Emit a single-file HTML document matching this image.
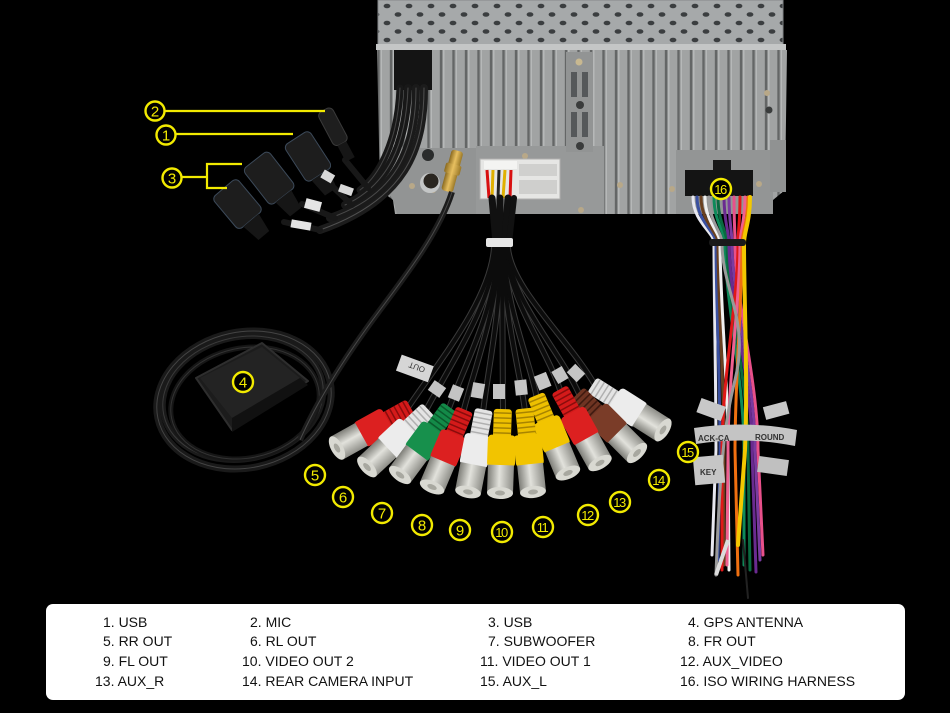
<!DOCTYPE html>
<html><head><meta charset="utf-8"><style>
html,body{margin:0;padding:0;background:#000;}
svg{display:block;}
</style></head><body>
<svg width="950" height="713" viewBox="0 0 950 713" xmlns="http://www.w3.org/2000/svg">
<defs>
<pattern id="holes" patternUnits="userSpaceOnUse" width="22" height="17" x="380" y="0">
<rect width="22" height="17" fill="#a6a9aa"/>
<ellipse cx="7" cy="6" rx="3.4" ry="2.3" fill="#3b3e40"/>
<ellipse cx="18" cy="14.5" rx="3.4" ry="2.3" fill="#3b3e40"/>
</pattern>
<pattern id="fins" patternUnits="userSpaceOnUse" width="12.5" height="300" x="380" y="0">
<rect width="12.5" height="300" fill="#8c8e8e"/>
<rect x="0.5" width="9" height="300" fill="#a1a3a3"/>
<rect x="0.5" width="1.5" height="300" fill="#b6b8b8"/>
<rect x="10" width="2" height="300" fill="#646666"/>
</pattern>
<linearGradient id="metal" x1="0" x2="1" y1="0" y2="0">
<stop offset="0" stop-color="#7e7e78"/><stop offset="0.45" stop-color="#e2e2dc"/><stop offset="1" stop-color="#8e8e88"/>
</linearGradient>
<linearGradient id="gold" x1="0" x2="1"><stop offset="0" stop-color="#8a6a20"/><stop offset="0.5" stop-color="#e8c060"/><stop offset="1" stop-color="#9a7828"/></linearGradient>
</defs>
<rect width="950" height="713" fill="#000"/>

<!-- ===== Head unit ===== -->
<rect x="378" y="0" width="405" height="46" fill="url(#holes)"/>
<rect x="378" y="0" width="405" height="46" fill="none" stroke="#85888a" stroke-width="1"/>
<rect x="376" y="44" width="410" height="6" fill="#c4c6c6"/>
<polygon points="377,50 787,50 785,190 773,200 770,214 395,214 393,200 380,190" fill="url(#fins)"/>
<polygon points="390,148 478,148 478,214 397,214 393,200 386,190" fill="#929494"/>
<rect x="476" y="146" width="128" height="68" fill="#979999"/>
<rect x="676" y="150" width="97" height="64" fill="#939595"/>
<rect x="770" y="140" width="16" height="52" fill="#909292"/>
<rect x="566" y="52" width="27" height="100" fill="#929494"/>
<rect x="571" y="72" width="6" height="25" fill="#55585a"/><rect x="582" y="72" width="6" height="25" fill="#55585a"/>
<rect x="571" y="112" width="6" height="25" fill="#55585a"/><rect x="582" y="112" width="6" height="25" fill="#55585a"/>
<circle cx="580" cy="105" r="4" fill="#3a3c3c"/><circle cx="580" cy="146" r="4" fill="#3a3c3c"/>
<circle cx="579" cy="62" r="3.5" fill="#c8b890"/>
<circle cx="769" cy="110" r="3.5" fill="#3a3c3c"/><circle cx="767" cy="93" r="3" fill="#b8a888"/>
<circle cx="433" cy="190" r="3" fill="#b8a888"/><circle cx="525" cy="156" r="3" fill="#b8a888"/>
<circle cx="620" cy="185" r="3" fill="#b8a888"/><circle cx="672" cy="189" r="3" fill="#b8a888"/>
<circle cx="581" cy="210" r="3" fill="#b8a888"/><circle cx="759" cy="184" r="3" fill="#b8a888"/>
<circle cx="412" cy="186" r="3" fill="#b8a888"/>
<circle cx="428" cy="155" r="6" fill="#2a2c2c"/>
<circle cx="430" cy="183" r="10" fill="#c4c6c6"/><circle cx="431" cy="181" r="7.5" fill="#2a2620"/>
<g transform="translate(452,172) rotate(15)">
<rect x="-6" y="-22" width="12" height="42" rx="3" fill="url(#gold)"/>
<rect x="-8" y="-8" width="16" height="10" rx="2" fill="url(#gold)"/>
</g>
<rect x="480" y="159" width="80" height="40" fill="#e6e6e4"/>
<rect x="480" y="159" width="80" height="40" fill="none" stroke="#b0b0ae"/>
<rect x="519" y="164" width="38" height="12" fill="#d0d0ce"/><rect x="519" y="180" width="38" height="14" fill="#cfcfcd"/>
<rect x="484" y="161" width="33" height="8" fill="#f4f4f2"/>
<line x1="487" y1="170" x2="489" y2="198" stroke="#d81010" stroke-width="3"/>
<line x1="493" y1="170" x2="492" y2="198" stroke="#e0b000" stroke-width="3"/>
<line x1="499" y1="170" x2="498" y2="198" stroke="#222" stroke-width="3"/>
<line x1="505" y1="170" x2="503" y2="198" stroke="#e0b000" stroke-width="3"/>
<line x1="511" y1="170" x2="510" y2="198" stroke="#d81010" stroke-width="3"/>
<rect x="394" y="50" width="38" height="40" fill="#141414"/>
<rect x="713" y="160" width="18" height="12" fill="#181818"/>
<rect x="685" y="170" width="68" height="26" fill="#141414"/>

<!-- ===== GPS antenna coil ===== -->
<g fill="none" stroke-linecap="round">
<ellipse cx="244" cy="400" rx="88" ry="68" transform="rotate(-12 244 400)" stroke="#1a1a1a" stroke-width="7"/>
<ellipse cx="244" cy="400" rx="88" ry="68" transform="rotate(-12 244 400)" stroke="#444" stroke-width="1"/>
<ellipse cx="243" cy="398" rx="81" ry="61" transform="rotate(-12 243 398)" stroke="#1a1a1a" stroke-width="6"/>
<ellipse cx="243" cy="398" rx="81" ry="61" transform="rotate(-12 243 398)" stroke="#3a3a3a" stroke-width="1"/>
<ellipse cx="245" cy="403" rx="75" ry="55" transform="rotate(-12 245 403)" stroke="#161616" stroke-width="5"/>
<ellipse cx="245" cy="403" rx="75" ry="55" transform="rotate(-12 245 403)" stroke="#333" stroke-width="1"/>
</g>
<polygon points="196,378 262,343 308,381 232,430" fill="#1c1c1c" stroke="#2e2e2e" stroke-width="2" stroke-linejoin="round"/>
<polygon points="200,378 262,347 300,378 232,418" fill="#232323"/>
<polygon points="232,418 300,378 308,385 232,432" fill="#111"/>
<path d="M452,192 C440,230 410,270 380,310 C350,350 320,395 300,440" fill="none" stroke="#1c1c1c" stroke-width="6"/>
<path d="M452,192 C440,230 410,270 380,310 C350,350 320,395 300,440" fill="none" stroke="#4a4a4a" stroke-width="1"/>

<!-- ===== Left USB / MIC cables ===== -->
<g fill="none" stroke-linecap="round">
<path d="M424,88 C424,150 405,200 320,230" stroke="#1c1c1c" stroke-width="8"/>
<path d="M424,88 C424,150 405,200 320,230" stroke="#505050" stroke-width="1"/>
<path d="M416,88 C416,150 396,195 330,218" stroke="#1a1a1a" stroke-width="8"/>
<path d="M416,88 C416,150 396,195 330,218" stroke="#4a4a4a" stroke-width="1"/>
<path d="M408,88 C406,145 388,185 345,205" stroke="#181818" stroke-width="8"/>
<path d="M408,88 C406,145 388,185 345,205" stroke="#484848" stroke-width="1"/>
<path d="M400,88 C398,140 380,175 360,190" stroke="#181818" stroke-width="7"/>
<path d="M400,88 C398,140 380,175 360,190" stroke="#444" stroke-width="1"/>
<path d="M345,160 L368,188" stroke="#181818" stroke-width="6"/>
<path d="M334,188 L352,205" stroke="#181818" stroke-width="6"/>
<path d="M302,204 L335,218" stroke="#181818" stroke-width="6"/>
<path d="M284,222 L320,230" stroke="#181818" stroke-width="6"/>
</g>
<!-- MIC plug -->
<g transform="translate(324,110) rotate(-28)">
<rect x="-8" y="0" width="16" height="38" rx="5" fill="#1e1e1e" stroke="#3a3a3a"/>
<rect x="-5" y="38" width="10" height="18" fill="#161616"/>
</g>
<!-- USB plugs -->
<g transform="translate(296,138) rotate(-33)">
<rect x="-15" y="0" width="30" height="44" rx="5" fill="#1d1d1d" stroke="#3c4a5a"/>
<polygon points="-10,44 10,44 7,64 -7,64" fill="#161616"/>
</g>
<g transform="translate(255,160) rotate(-38)">
<rect x="-16" y="0" width="32" height="46" rx="5" fill="#1d1d1d" stroke="#3c4a5a"/>
<polygon points="-10,46 10,46 7,66 -7,66" fill="#161616"/>
</g>
<g transform="translate(224,188) rotate(-40)">
<rect x="-16" y="0" width="32" height="42" rx="5" fill="#1d1d1d" stroke="#3c4a5a"/>
<polygon points="-10,42 10,42 7,62 -7,62" fill="#161616"/>
</g>
<rect x="322" y="172" width="12" height="9" fill="#d8d8d8" transform="rotate(30 328 176)"/>
<rect x="339" y="186" width="14" height="8" fill="#d8d8d8" transform="rotate(20 346 190)"/>
<rect x="305" y="200" width="16" height="10" fill="#e4e4e4" transform="rotate(15 313 205)"/>
<rect x="291" y="221" width="20" height="8" fill="#e4e4e4" transform="rotate(10 301 225)"/>

<!-- ===== RCA bundle ===== -->
<g fill="none" stroke-linecap="round">
<path d="M492,198 L496,243" stroke="#111" stroke-width="7"/>
<path d="M500,198 L500,243" stroke="#111" stroke-width="7"/>
<path d="M508,198 L505,243" stroke="#111" stroke-width="7"/>
<path d="M514,198 L509,243" stroke="#111" stroke-width="6"/>
</g>
<g fill="none" stroke-linecap="round">
<g stroke="#3a3a3a" stroke-width="6">
<path d="M494,248 C490,300 440,360 407,409"/>
<path d="M496,248 C494,300 450,365 425,412"/>
<path d="M498,248 C496,310 462,370 448,411"/>
<path d="M499,248 C498,310 472,375 463,413"/>
<path d="M501,248 C500,320 486,380 483,413"/>
<path d="M502,248 C502,320 503,380 503,413"/>
<path d="M503,248 C504,320 522,380 525,412"/>
<path d="M504,248 C506,310 530,360 537,399"/>
<path d="M506,248 C508,300 548,350 561,393"/>
<path d="M507,248 C510,300 560,350 580,396"/>
<path d="M508,248 C512,290 570,340 596,387"/>
</g>
<g stroke="#0c0c0c" stroke-width="4">
<path d="M494,248 C490,300 440,360 407,409"/>
<path d="M496,248 C494,300 450,365 425,412"/>
<path d="M498,248 C496,310 462,370 448,411"/>
<path d="M499,248 C498,310 472,375 463,413"/>
<path d="M501,248 C500,320 486,380 483,413"/>
<path d="M502,248 C502,320 503,380 503,413"/>
<path d="M503,248 C504,320 522,380 525,412"/>
<path d="M504,248 C506,310 530,360 537,399"/>
<path d="M506,248 C508,300 548,350 561,393"/>
<path d="M507,248 C510,300 560,350 580,396"/>
<path d="M508,248 C512,290 570,340 596,387"/>
</g>
</g>
<rect x="486" y="238" width="27" height="9" rx="2" fill="#e6e6e6"/>
<g fill="#c4c4c4">
<rect x="398" y="360" width="34" height="17" transform="rotate(20 415 368)" fill="#d6d6d6"/>
<rect x="430" y="383" width="14" height="12" transform="rotate(35 437 389)"/>
<rect x="450" y="386" width="12" height="14" transform="rotate(22 456 393)"/>
<rect x="472" y="383" width="12" height="15" transform="rotate(10 478 390)"/>
<rect x="493" y="384" width="12" height="15"/>
<rect x="515" y="380" width="12" height="15" transform="rotate(-6 521 387)"/>
<rect x="536" y="374" width="13" height="15" transform="rotate(-22 542 381)"/>
<rect x="554" y="368" width="12" height="14" transform="rotate(-30 560 375)"/>
<rect x="570" y="366" width="12" height="14" transform="rotate(-45 576 373)"/>
</g>
<text x="405" y="372" font-family="Liberation Sans, sans-serif" font-size="8" fill="#333" transform="rotate(200 415 368)">OUT</text>

<!-- ===== RCA plugs ===== -->
<g id="plugs">
<g transform="translate(663,430) rotate(-57.6)">
<rect x="-9" y="-84" width="18" height="30" rx="3" fill="#e4e4e4"/>
<path d="M-9,-80h18M-9,-75h18M-9,-70h18M-9,-65h18M-9,-60h18" stroke="#b0b0b0" stroke-width="1.5"/>
<rect x="-14" y="-58" width="28" height="32" rx="4" fill="#ececec"/>
<rect x="-13" y="-28" width="26" height="28" fill="url(#metal)"/>
<ellipse cx="0" cy="0" rx="13" ry="6" fill="#d9d9d2"/><ellipse cx="0" cy="0" rx="5" ry="2.5" fill="#a8a8a0"/>
</g>
<g transform="translate(637,453) rotate(-45)">
<rect x="-9" y="-84" width="18" height="30" rx="3" fill="#6e3422"/>
<path d="M-9,-80h18M-9,-75h18M-9,-70h18M-9,-65h18M-9,-60h18" stroke="#3e1a10" stroke-width="1.5"/>
<rect x="-14" y="-58" width="28" height="32" rx="4" fill="#7a3c28"/>
<rect x="-13" y="-28" width="26" height="28" fill="url(#metal)"/>
<ellipse cx="0" cy="0" rx="13" ry="6" fill="#d9d9d2"/><ellipse cx="0" cy="0" rx="5" ry="2.5" fill="#a8a8a0"/>
</g>
<g transform="translate(600,463) rotate(-29)">
<rect x="-9" y="-84" width="18" height="30" rx="3" fill="#d41a1a"/>
<path d="M-9,-80h18M-9,-75h18M-9,-70h18M-9,-65h18M-9,-60h18" stroke="#8a0c0c" stroke-width="1.5"/>
<rect x="-14" y="-58" width="28" height="32" rx="4" fill="#dc2020"/>
<rect x="-13" y="-28" width="26" height="28" fill="url(#metal)"/>
<ellipse cx="0" cy="0" rx="13" ry="6" fill="#d9d9d2"/><ellipse cx="0" cy="0" rx="5" ry="2.5" fill="#a8a8a0"/>
</g>
<g transform="translate(568,473) rotate(-22.6)">
<rect x="-9" y="-84" width="18" height="30" rx="3" fill="#eec000"/>
<path d="M-9,-80h18M-9,-75h18M-9,-70h18M-9,-65h18M-9,-60h18" stroke="#a88400" stroke-width="1.5"/>
<rect x="-14" y="-58" width="28" height="32" rx="4" fill="#f2c400"/>
<rect x="-13" y="-28" width="26" height="28" fill="url(#metal)"/>
<ellipse cx="0" cy="0" rx="13" ry="6" fill="#d9d9d2"/><ellipse cx="0" cy="0" rx="5" ry="2.5" fill="#a8a8a0"/>
</g>
<g transform="translate(337,448) rotate(61)">
<rect x="-9" y="-84" width="18" height="30" rx="3" fill="#d41a1a"/>
<path d="M-9,-80h18M-9,-75h18M-9,-70h18M-9,-65h18M-9,-60h18" stroke="#8a0c0c" stroke-width="1.5"/>
<rect x="-14" y="-58" width="28" height="32" rx="4" fill="#dc2020"/>
<rect x="-13" y="-28" width="26" height="28" fill="url(#metal)"/>
<ellipse cx="0" cy="0" rx="13" ry="6" fill="#d9d9d2"/><ellipse cx="0" cy="0" rx="5" ry="2.5" fill="#a8a8a0"/>
</g>
<g transform="translate(367,467) rotate(47)">
<rect x="-9" y="-84" width="18" height="30" rx="3" fill="#e4e4e4"/>
<path d="M-9,-80h18M-9,-75h18M-9,-70h18M-9,-65h18M-9,-60h18" stroke="#b0b0b0" stroke-width="1.5"/>
<rect x="-14" y="-58" width="28" height="32" rx="4" fill="#ececec"/>
<rect x="-13" y="-28" width="26" height="28" fill="url(#metal)"/>
<ellipse cx="0" cy="0" rx="13" ry="6" fill="#d9d9d2"/><ellipse cx="0" cy="0" rx="5" ry="2.5" fill="#a8a8a0"/>
</g>
<g transform="translate(400,475) rotate(36.5)">
<rect x="-9" y="-84" width="18" height="30" rx="3" fill="#138a48"/>
<path d="M-9,-80h18M-9,-75h18M-9,-70h18M-9,-65h18M-9,-60h18" stroke="#0a5a2c" stroke-width="1.5"/>
<rect x="-14" y="-58" width="28" height="32" rx="4" fill="#17904c"/>
<rect x="-13" y="-28" width="26" height="28" fill="url(#metal)"/>
<ellipse cx="0" cy="0" rx="13" ry="6" fill="#d9d9d2"/><ellipse cx="0" cy="0" rx="5" ry="2.5" fill="#a8a8a0"/>
</g>
<g transform="translate(432,487) rotate(23)">
<rect x="-9" y="-84" width="18" height="30" rx="3" fill="#d41a1a"/>
<path d="M-9,-80h18M-9,-75h18M-9,-70h18M-9,-65h18M-9,-60h18" stroke="#8a0c0c" stroke-width="1.5"/>
<rect x="-14" y="-58" width="28" height="32" rx="4" fill="#dc2020"/>
<rect x="-13" y="-28" width="26" height="28" fill="url(#metal)"/>
<ellipse cx="0" cy="0" rx="13" ry="6" fill="#d9d9d2"/><ellipse cx="0" cy="0" rx="5" ry="2.5" fill="#a8a8a0"/>
</g>
<g transform="translate(468,492) rotate(11)">
<rect x="-9" y="-84" width="18" height="30" rx="3" fill="#e4e4e4"/>
<path d="M-9,-80h18M-9,-75h18M-9,-70h18M-9,-65h18M-9,-60h18" stroke="#b0b0b0" stroke-width="1.5"/>
<rect x="-14" y="-58" width="28" height="32" rx="4" fill="#ececec"/>
<rect x="-13" y="-28" width="26" height="28" fill="url(#metal)"/>
<ellipse cx="0" cy="0" rx="13" ry="6" fill="#d9d9d2"/><ellipse cx="0" cy="0" rx="5" ry="2.5" fill="#a8a8a0"/>
</g>
<g transform="translate(533,492) rotate(-6)">
<rect x="-9" y="-84" width="18" height="30" rx="3" fill="#eec000"/>
<path d="M-9,-80h18M-9,-75h18M-9,-70h18M-9,-65h18M-9,-60h18" stroke="#a88400" stroke-width="1.5"/>
<rect x="-14" y="-58" width="28" height="32" rx="4" fill="#f2c400"/>
<rect x="-13" y="-28" width="26" height="28" fill="url(#metal)"/>
<ellipse cx="0" cy="0" rx="13" ry="6" fill="#d9d9d2"/><ellipse cx="0" cy="0" rx="5" ry="2.5" fill="#a8a8a0"/>
</g>
<g transform="translate(500,493) rotate(2)">
<rect x="-9" y="-84" width="18" height="30" rx="3" fill="#eec000"/>
<path d="M-9,-80h18M-9,-75h18M-9,-70h18M-9,-65h18M-9,-60h18" stroke="#a88400" stroke-width="1.5"/>
<rect x="-14" y="-58" width="28" height="32" rx="4" fill="#f2c400"/>
<rect x="-13" y="-28" width="26" height="28" fill="url(#metal)"/>
<ellipse cx="0" cy="0" rx="13" ry="6" fill="#d9d9d2"/><ellipse cx="0" cy="0" rx="5" ry="2.5" fill="#a8a8a0"/>
</g>
</g>

<!-- ===== ISO harness ===== -->
<g fill="none" stroke-width="3" stroke-linecap="round">
<path d="M693,197 C693,222 714,232 714,243 C714,300 716,380 716,450 L712,555" stroke="#e8e8f0"/>
<path d="M697,197 C697,222 716,232 716,243 C716,300 720,380 720,450 L718,560" stroke="#3a50a0"/>
<path d="M701,197 C701,222 718,232 718,243 C718,300 724,380 724,450 L724,565" stroke="#6a4020"/>
<path d="M705,197 C705,222 720,232 720,243 C720,300 728,380 728,450 L729,570" stroke="#f0f0f0"/>
<path d="M714,197 C714,222 725,232 725,243 C725,300 744,380 744,450 L744,565" stroke="#0e8a5a"/>
<path d="M718,197 C718,222 727,232 727,243 C727,300 748,380 748,450 L750,570" stroke="#0a6a40"/>
<path d="M724,197 C724,222 729,232 729,243 C729,300 752,380 752,450 L756,572" stroke="#6a2a90"/>
<path d="M729,197 C729,222 732,232 732,243 C732,300 755,380 755,450 L760,560" stroke="#7a3aa0"/>
<path d="M734,197 C734,222 735,232 735,243 C735,300 758,380 758,450 L763,555" stroke="#e8508a"/>
<path d="M740,197 C740,222 738,232 738,243 C738,300 722,380 722,450 L722,570" stroke="#e01818"/>
<path d="M745,197 C745,222 740,232 740,243 C740,300 728,380 728,450 L727,565" stroke="#f06090"/>
<path d="M748,197 C748,222 742,232 742,243 C742,300 735,380 735,450 L738,575" stroke="#f07010"/>
<path d="M709,197 C709,222 722,232 722,243 C722,290 750,320 735,380 C725,420 720,460 716,575" stroke="#9a9a9a"/>
<path d="M750,197 C750,222 744,232 744,243 C744,300 748,380 745,450 L738,545" stroke="#f2c800" stroke-width="4"/>
<path d="M743,540 L748,598" stroke="#222" stroke-width="2"/>
</g>
<rect x="709" y="239" width="37" height="7" rx="3" fill="#1a1a1a"/>
<rect x="698" y="402" width="26" height="15" fill="#c8c8c8" transform="rotate(20 711 410)"/>
<rect x="764" y="404" width="24" height="13" fill="#c8c8c8" transform="rotate(-15 776 410)"/>
<path d="M694,428 Q745,420 797,430 L795,446 Q745,436 696,444 Z" fill="#c4c4c4"/>
<text x="698" y="441" font-family="Liberation Sans, sans-serif" font-size="8" font-weight="bold" fill="#333">ACK-CA</text>
<text x="755" y="440" font-family="Liberation Sans, sans-serif" font-size="8" font-weight="bold" fill="#333">ROUND</text>
<rect x="694" y="456" width="30" height="28" fill="#c6c6c6" transform="rotate(-5 709 470)"/>
<text x="700" y="475" font-family="Liberation Sans, sans-serif" font-size="8" font-weight="bold" fill="#333">KEY</text>
<rect x="758" y="458" width="30" height="16" fill="#c0c0c0" transform="rotate(8 773 466)"/>
<line x1="728" y1="540" x2="716" y2="575" stroke="#dcdcdc" stroke-width="4"/>

<!-- ===== Callouts ===== -->
<g stroke="#f2ea00" stroke-width="2.2" fill="none">
<line x1="165" y1="111" x2="325" y2="111"/>
<line x1="175" y1="134" x2="293" y2="134"/>
<polyline points="181,177 207,177"/>
<polyline points="242,164 207,164 207,188 227,188"/>
</g>
<g fill="#000" stroke="#f2ea00" stroke-width="2.4">
<circle cx="155" cy="111" r="9.5"/>
<circle cx="166" cy="135" r="9.5"/>
<circle cx="172" cy="178" r="9.5"/>
<circle cx="243" cy="382" r="10"/>
<circle cx="315" cy="475" r="10"/>
<circle cx="343" cy="497" r="10"/>
<circle cx="382" cy="513" r="10"/>
<circle cx="422" cy="525" r="10"/>
<circle cx="460" cy="530" r="10"/>
<circle cx="502" cy="532" r="10"/>
<circle cx="543" cy="527" r="10"/>
<circle cx="588" cy="515" r="10"/>
<circle cx="620" cy="502" r="10"/>
<circle cx="659" cy="480" r="10"/>
<circle cx="688" cy="452" r="10"/>
<circle cx="721" cy="189" r="10"/>
</g>
<g font-family="Liberation Sans, sans-serif" font-size="15" fill="#f2ea00" text-anchor="middle">
<text x="155" y="116.5">2</text>
<text x="166" y="140.5">1</text>
<text x="172" y="183.5">3</text>
<text x="243" y="387.5">4</text>
<text x="315" y="480.5">5</text>
<text x="343" y="502.5">6</text>
<text x="382" y="518.5">7</text>
<text x="422" y="530.5">8</text>
<text x="460" y="535.5">9</text>
<g font-size="13" letter-spacing="-1.5">
<text x="501" y="537">10</text>
<text x="542" y="532">11</text>
<text x="587" y="520">12</text>
<text x="619" y="507">13</text>
<text x="658" y="485">14</text>
<text x="687" y="457">15</text>
<text x="720" y="194">16</text>
</g>
</g>

<!-- ===== Legend ===== -->
<rect x="46" y="604" width="859" height="96" rx="7" fill="#fff"/>
<g font-family="Liberation Sans, sans-serif" font-size="14" fill="#111">
<text x="103" y="627">1. USB</text>
<text x="250" y="627">2. MIC</text>
<text x="488" y="627">3. USB</text>
<text x="688" y="627">4. GPS ANTENNA</text>
<text x="103" y="646">5. RR OUT</text>
<text x="250" y="646">6. RL OUT</text>
<text x="488" y="646">7. SUBWOOFER</text>
<text x="688" y="646">8. FR OUT</text>
<text x="103" y="666">9. FL OUT</text>
<text x="242" y="666">10. VIDEO OUT 2</text>
<text x="480" y="666">11. VIDEO OUT 1</text>
<text x="680" y="666">12. AUX_VIDEO</text>
<text x="95" y="686">13. AUX_R</text>
<text x="242" y="686">14. REAR CAMERA INPUT</text>
<text x="480" y="686">15. AUX_L</text>
<text x="680" y="686">16. ISO WIRING HARNESS</text>
</g>
</svg>
</body></html>
